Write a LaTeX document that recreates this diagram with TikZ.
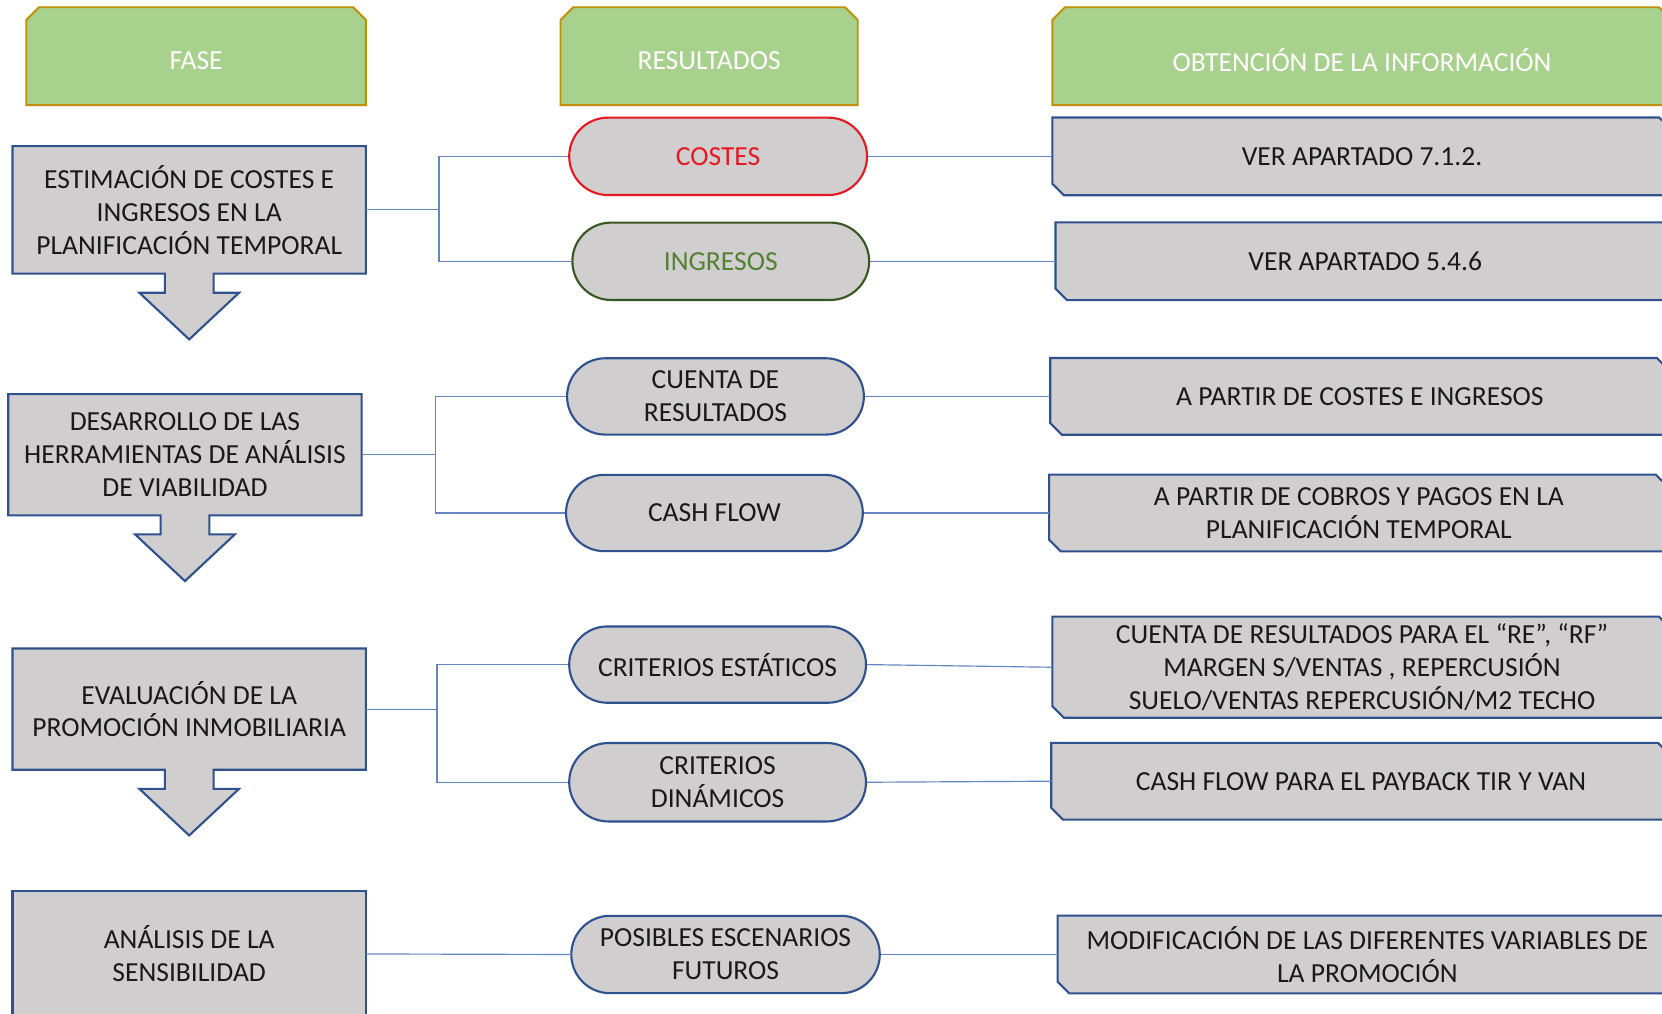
\documentclass[tikz,border=0pt]{standalone}
\usepackage{fontspec}
\setmainfont{Carlito}
\usetikzlibrary{shapes.misc,calc,backgrounds}
\definecolor{hdrfill}{RGB}{169,209,142}
\definecolor{hdrline}{RGB}{191,144,0}
\definecolor{boxfill}{RGB}{208,206,206}
\definecolor{boxline}{RGB}{47,82,143}
\definecolor{connc}{RGB}{100,135,195}
\definecolor{costred}{RGB}{230,25,35}
\definecolor{ingline}{RGB}{56,87,35}
\definecolor{ingtext}{RGB}{84,130,53}
\definecolor{txt}{RGB}{25,25,25}
\newcommand{\phaseoutline}[1]{%
  \path[grayshape] (#1.north west) -- (#1.north east) -- (#1.south east)
    -- ($(#1.south)+(23,0)$) -- ($(#1.south)+(23,18)$) -- ($(#1.south)+(47,18)$)
    -- ($(#1.south)+(0,62)$) -- ($(#1.south)+(-47,18)$) -- ($(#1.south)+(-23,18)$)
    -- ($(#1.south)+(-23,0)$) -- (#1.south west) -- cycle;}
\newcommand{\infooutline}[1]{%
  \path[grayshape] (#1.north west) -- ($(#1.north east)+(-12,0)$) -- ($(#1.north east)+(0,12)$)
    -- (#1.south east) -- ($(#1.south west)+(11,0)$) -- ($(#1.south west)+(0,-11)$) -- cycle;}
\newcommand{\hdroutline}[1]{%
  \path[hdrshape] (#1.south west) -- ($(#1.north west)+(0,12)$) -- ($(#1.north west)+(12,0)$)
    -- ($(#1.north east)+(-12,0)$) -- ($(#1.north east)+(0,12)$) -- (#1.south east) -- cycle;}
\newcommand{\hdrtext}[1]{\raisebox{-4pt}[\height][\depth]{#1}}
\begin{document}
\begin{tikzpicture}[x=1pt,y=-1pt,
  every node/.style={font=\fontsize{26}{31}\selectfont, text=txt, align=center, inner sep=0pt},
  hdr/.style={rectangle, minimum width=#1, minimum height=92pt, text=white},
  phase/.style={rectangle, minimum width=333pt, minimum height=#1},
  info/.style={rectangle, minimum width=584pt, minimum height=#1},
  pill/.style={rounded rectangle, fill=boxfill, draw=boxline, line width=2pt,
    minimum height=73pt, minimum width=#1},
  hdrshape/.style={fill=hdrfill, draw=hdrline, line width=1.8pt, line join=miter},
  grayshape/.style={fill=boxfill, draw=boxline, line width=2pt, line join=miter},
  conn/.style={draw=connc, line width=1.1pt}
]
\useasboundingbox (0,0) rectangle (1568,956);

% headers
\node[hdr=320pt] (h1) at (185,53) {\hdrtext{FASE}};
\node[hdr=280pt] (h2) at (669,53) {\hdrtext{RESULTADOS}};
\node[hdr=584pt] (h3) at (1285,53) {\hdrtext{OBTENCIÓN DE LA INFORMACIÓN}};

% phases
\node[phase=120pt] (p1) at (178.5,198) {ESTIMACIÓN DE COSTES E\\INGRESOS EN LA\\PLANIFICACIÓN TEMPORAL};
\node[phase=114pt] (p2) at (174.5,429) {DESARROLLO DE LAS\\HERRAMIENTAS DE ANÁLISIS\\DE VIABILIDAD};
\node[phase=114pt] (p3) at (178.5,669) {EVALUACIÓN DE LA\\PROMOCIÓN INMOBILIARIA};
\node[phase=118pt] (p4) at (178.5,900) {ANÁLISIS DE LA\\SENSIBILIDAD};

% results
\node[pill=281pt, draw=costred, text=costred] (c1) at (677.5,147.5) {COSTES};
\node[pill=280pt, draw=ingline, text=ingtext] (c2) at (680,246.5) {INGRESOS};
\node[pill=280pt, minimum height=72pt] (c3) at (675,374) {CUENTA DE\\RESULTADOS};
\node[pill=280pt, minimum height=72pt] (c4) at (674,484) {CASH FLOW};
\node[pill=280pt, minimum height=72pt] (c5) at (677,627) {CRITERIOS ESTÁTICOS};
\node[pill=280pt, minimum height=74pt] (c6) at (677,738) {CRITERIOS\\DINÁMICOS};
\node[pill=291pt] (c7) at (684.5,900.5) {POSIBLES ESCENARIOS\\FUTUROS};

% information
\node[info=73pt] (i1) at (1285,147.5) {VER APARTADO 7.1.2.};
\node[info=73pt] (i2) at (1288,246.5) {VER APARTADO 5.4.6};
\node[info=72pt] (i3) at (1283,374) {A PARTIR DE COSTES E INGRESOS};
\node[info=72pt] (i4) at (1282,484) {A PARTIR DE COBROS Y PAGOS EN LA\\PLANIFICACIÓN TEMPORAL};
\node[info=95pt] (i5) at (1285,629.5) {CUENTA DE RESULTADOS PARA EL “RE”, “RF”\\MARGEN S/VENTAS , REPERCUSIÓN\\SUELO/VENTAS REPERCUSIÓN/M2 TECHO};
\node[info=72pt] (i6) at (1284,737) {CASH FLOW PARA EL PAYBACK TIR Y VAN};
\node[info=73pt] (i7) at (1290,900.5) {MODIFICACIÓN DE LAS DIFERENTES VARIABLES DE\\LA PROMOCIÓN};

\begin{scope}[on background layer]
  \fill[white] (0,0) rectangle (1568,956);
  \hdroutline{h1}\hdroutline{h2}\hdroutline{h3}
  \phaseoutline{p1}\phaseoutline{p2}\phaseoutline{p3}
  \path[grayshape] (p4.north west) rectangle (p4.south east);
  \infooutline{i1}\infooutline{i2}\infooutline{i3}\infooutline{i4}
  \infooutline{i5}\infooutline{i6}\infooutline{i7}
\end{scope}

% connectors
\draw[conn] (p1.east) -- ++(69,0) coordinate (j1);
\draw[conn] (j1) |- (c1.west);
\draw[conn] (j1) |- (c2.west);
\draw[conn] (p2.east) -- ++(70,0) coordinate (j2);
\draw[conn] (j2) |- (c3.west);
\draw[conn] (j2) |- (c4.west);
\draw[conn] (p3.east) -- ++(67,0) coordinate (j3);
\draw[conn] (j3) |- (c5.west);
\draw[conn] (j3) |- (c6.west);
\draw[conn] (p4.east) -- (c7.west);
\draw[conn] (c1.east) -- (i1.west);
\draw[conn] (c2.east) -- (i2.west);
\draw[conn] (c3.east) -- (i3.west);
\draw[conn] (c4.east) -- (i4.west);
\draw[conn] (c5.east) -- (i5.west);
\draw[conn] (c6.east) -- (i6.west);
\draw[conn] (c7.east) -- (i7.west);
\end{tikzpicture}
\end{document}
